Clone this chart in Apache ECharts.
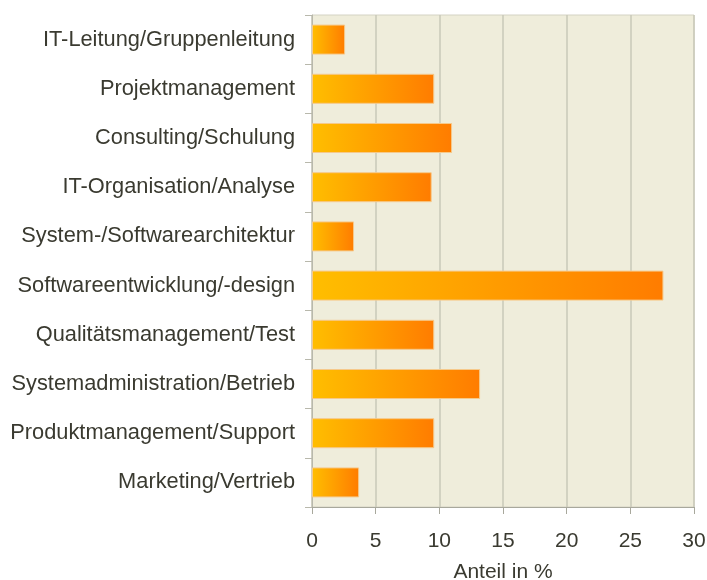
<!DOCTYPE html>
<html>
<head>
<meta charset="utf-8">
<script src="https://cdn.jsdelivr.net/npm/echarts@6/dist/echarts.min.js"></script>
<style>
  html, body { margin: 0; padding: 0; background: #fff; }
  #chart { width: 707px; height: 580px; }
</style>
</head>
<body>
<div id="chart"></div>
<script>
// Kategorien von oben nach unten
const categories = [
  'IT-Leitung/Gruppenleitung',
  'Projektmanagement',
  'Consulting/Schulung',
  'IT-Organisation/Analyse',
  'System-/Softwarearchitektur',
  'Softwareentwicklung/-design',
  'Qualitätsmanagement/Test',
  'Systemadministration/Betrieb',
  'Produktmanagement/Support',
  'Marketing/Vertrieb'
];

// Anteil in %
const shares = [2.6, 9.6, 11.0, 9.4, 3.3, 27.6, 9.6, 13.2, 9.6, 3.7];

const xTicks = [0, 5, 10, 15, 20, 25, 30];

const chart = echarts.init(document.getElementById('chart'));

const barGradient = new echarts.graphic.LinearGradient(0, 0, 1, 0, [
  { offset: 0, color: '#FFBE00' },
  { offset: 1, color: '#FF7C00' }
]);

chart.setOption({
  animation: false,
  textStyle: { fontFamily: 'Liberation Sans, Arial, sans-serif' },
  grid: {
    left: 312,
    right: 13,
    top: 15,
    bottom: 73,
    outerBoundsMode: 'none',
    containLabel: false,
    show: true,
    backgroundColor: '#EFEDDB',
    borderColor: '#D4D3C4',
    borderWidth: 1
  },
  xAxis: {
    type: 'value',
    min: xTicks[0],
    max: xTicks[xTicks.length - 1],
    interval: 5,
    name: 'Anteil in %',
    nameLocation: 'middle',
    nameGap: 55,
    nameTextStyle: { fontSize: 21, color: '#3A3A30' },
    axisLine: { show: true, lineStyle: { color: '#A8A89C', width: 1 } },
    axisTick: { show: true, length: 7, lineStyle: { color: '#A8A89C' } },
    axisLabel: { fontSize: 21, color: '#3A3A30', margin: 24 },
    splitLine: { show: true, lineStyle: { color: '#C9C8B8', width: 1.5 } }
  },
  yAxis: {
    type: 'category',
    inverse: true,
    data: categories,
    axisLine: { show: true, lineStyle: { color: '#B8B8AC' } },
    axisTick: { show: true, length: 7, alignWithLabel: false, lineStyle: { color: '#B8B8AC' } },
    axisLabel: { fontSize: 21.8, color: '#3A3A30', margin: 17 },
    splitLine: { show: false }
  },
  series: [{
    type: 'bar',
    data: shares,
    barWidth: 30,
    itemStyle: {
      color: barGradient,
      borderColor: '#F6C98A',
      borderWidth: 1
    }
  }]
});
</script>
</body>
</html>
